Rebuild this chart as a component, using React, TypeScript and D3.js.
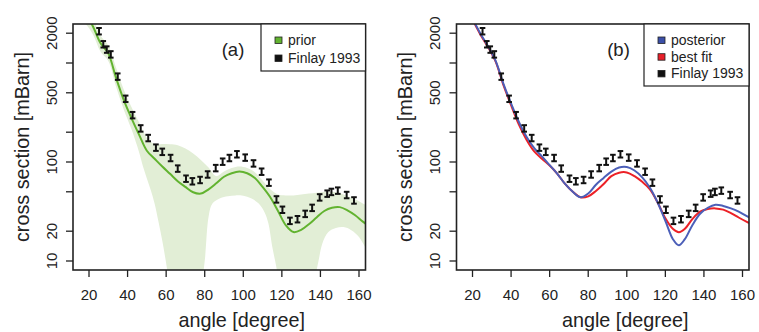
import React from 'react';
import * as d3 from 'd3';

// Finlay 1993 measurements (angle in degree, cross section in mBarn)
const finlayAngle = [25.2, 27.4, 29.2, 31.3, 34.9, 39.0, 42.6, 46.8, 50.7, 54.7, 58.0, 62.3, 66.0, 70.3, 73.6, 77.6, 81.5, 85.7, 89.3, 92.8, 96.7, 101.0, 105.3, 109.5, 113.3, 117.2, 120.3, 124.2, 128.1, 132.1, 135.7, 139.6, 143.5, 145.7, 149.0, 153.6, 157.4];
const finlayValue = [2100, 1550, 1370, 1225, 730, 436, 298, 219, 175, 140, 127, 110, 86, 68, 64, 66, 75, 87, 101, 110, 120, 111, 97, 80, 62, 42, 33, 25.5, 26.5, 30, 34.5, 44, 48, 50, 51.5, 46.5, 41];
const finlayRelErr = 0.075;

// prior mean curve
const priorAngle = [12, 18, 22, 26, 30, 34, 38, 42, 46, 50, 54, 58, 62, 66, 70, 74, 78, 82, 86, 90, 94, 98, 102, 106, 110, 114, 118, 122, 126, 130, 134, 138, 142, 146, 150, 154, 158, 162, 166];
const priorValue = [4500, 3200, 2350, 1580, 1250, 710, 425, 278, 188, 130, 108, 90, 76, 64, 56, 49.5, 48, 53, 61, 71, 77, 80, 77, 69, 56, 44, 32, 23, 19.6, 20.6, 23.5, 27.5, 32, 34.5, 35, 32.5, 29, 25, 22];

// prior uncertainty band
const bandUpperAngle = [12, 18, 22, 26, 30, 34, 38, 42, 46, 50, 54, 58, 62, 66, 70, 74, 78, 82, 86, 90, 94, 98, 102, 106, 110, 114, 118, 122, 126, 130, 134, 138, 142, 146, 150, 154, 158, 162, 166];
const bandUpper = [6000, 3700, 2800, 1900, 1500, 900, 540, 360, 250, 175, 152, 152, 151, 148, 137, 122, 105, 88, 72, 80, 87, 90, 87, 79, 65, 53, 47, 46, 46, 47, 48, 49, 50, 50, 48.5, 45, 42, 38, 35];
const bandLowerAngle = [12, 18, 22, 26, 30, 34, 38, 42, 46, 48, 50, 52, 54, 56, 58, 60, 62, 66, 70, 74, 78, 80, 82, 84, 88, 92, 96, 100, 104, 108, 111, 113, 115, 117, 119, 124, 130, 134, 137, 139, 141, 144, 148, 152, 156, 160, 164, 166];
const bandLower = [3000, 2500, 1950, 1300, 1050, 580, 340, 215, 125, 90, 68, 52, 38, 25, 16, 9.5, 5.5, 3, 2.5, 3, 5.5, 10, 28, 38, 43, 45, 46, 45.5, 43, 38, 31, 24, 14, 9, 5.5, 3, 2.5, 3.5, 6.5, 10, 15, 19.5, 21.5, 22, 20.5, 17.5, 13, 11.5];

// posterior and best fit curves
const fitAngle = [12, 16, 20, 24, 28, 32, 36, 40, 44, 48, 52, 56, 60, 64, 68, 72, 76, 80, 84, 88, 92, 96, 100, 104, 108, 112, 116, 120, 124, 127, 130, 134, 138, 142, 146, 150, 154, 158, 162, 166];
const posteriorValue = [5500, 4000, 2800, 2000, 1480, 1050, 620, 390, 255, 180, 138, 114, 93, 76, 60, 50, 44, 48, 59, 69, 80, 88, 89, 82, 70, 55, 39, 25.5, 16.5, 14.4, 16.5, 23, 30, 34.5, 37, 36, 34, 31.5, 28.5, 26];
const bestFitValue = [5400, 3900, 2750, 1950, 1450, 1030, 600, 375, 240, 168, 128, 108, 92, 76, 60, 50, 44, 45, 51, 60, 72, 78, 78.5, 72, 63, 53, 39, 27, 21, 19.5, 21, 26.5, 31.5, 33.5, 34, 33, 30.5, 27.5, 25, 23];

const xTicks = [20, 40, 60, 80, 100, 120, 140, 160];
const yTicks = [10, 20, 50, 100, 200, 500, 1000, 2000];
const yTickLabels = ['10', '20', '', '100', '', '500', '', '2000'];

const font = 'Liberation Sans, Arial, Helvetica, sans-serif';
const plotTop = 24, plotBottom = 270, plotW = 292.5;

type Pt = { a: number; v: number };
const zip = (as: number[], vs: number[]): Pt[] => as.map((a, i) => ({ a, v: vs[i] }));

const Panel = ({ x0, id, label, legend, children }: any) => {
  const x = d3.scaleLinear().domain([11.7, 163.37]).range([x0, x0 + plotW]);
  const y = d3.scaleLog().domain([8.11, 2477]).range([plotBottom, plotTop]);
  const line = d3.line<Pt>().x(d => x(d.a)).y(d => y(d.v)).curve(d3.curveCatmullRom.alpha(0.5));

  return (
    <g>
      <defs>
        <clipPath id={id}>
          <rect x={x0} y={plotTop} width={plotW} height={plotBottom - plotTop} />
        </clipPath>
      </defs>
      <g clipPath={`url(#${id})`}>{children(x, y, line)}</g>
      {/* data points with error bars */}
      <g stroke="#111" strokeWidth={2}>
        {finlayAngle.map((a, i) => {
          const v = finlayValue[i];
          const cx = x(a), y1 = y(v * (1 - finlayRelErr)), y2 = y(v * (1 + finlayRelErr));
          return (
            <g key={i}>
              <line x1={cx} x2={cx} y1={y1} y2={y2} />
              <line x1={cx - 2.8} x2={cx + 2.8} y1={y1} y2={y1} />
              <line x1={cx - 2.8} x2={cx + 2.8} y1={y2} y2={y2} />
            </g>
          );
        })}
      </g>
      <rect x={x0} y={plotTop} width={plotW} height={plotBottom - plotTop} fill="none" stroke="#222" strokeWidth={1.6} />
      {/* y axis */}
      {yTicks.map((t, i) => (
        <g key={t}>
          <line x1={x0 - 7} x2={x0} y1={y(t)} y2={y(t)} stroke="#222" strokeWidth={1.3} />
          {yTickLabels[i] && (
            <text transform={`translate(${x0 - 16.5},${y(t)}) rotate(-90)`} textAnchor="middle" fontSize={15} fill="#222" fontFamily={font}>{yTickLabels[i]}</text>
          )}
        </g>
      ))}
      {/* x axis */}
      {xTicks.map(t => (
        <g key={t}>
          <line x1={x(t)} x2={x(t)} y1={plotBottom} y2={plotBottom + 7} stroke="#222" strokeWidth={1.3} />
          <text x={x(t)} y={299.5} textAnchor="middle" fontSize={15} fill="#222" fontFamily={font}>{t}</text>
        </g>
      ))}
      <text x={x0 + 168.7} y={327} textAnchor="middle" fontSize={19.8} fill="#222" fontFamily={font}>angle [degree]</text>
      <text transform={`translate(${x0 - 44.5},147) rotate(-90)`} textAnchor="middle" fontSize={19.8} fill="#222" fontFamily={font}>cross section [mBarn]</text>
      <text x={x0 + (label === '(a)' ? 160 : 162)} y={55.5} textAnchor="middle" fontSize={18.5} fill="#222" fontFamily={font}>{label}</text>
      {legend}
    </g>
  );
};

const Legend = ({ x1, x2, rows, step, items }: any) => (
  <g fontFamily={font} fontSize={14} fill="#222">
    <rect x={x1} y={plotTop} width={x2 - x1} height={rows} fill="white" stroke="#222" strokeWidth={1.2} />
    {items.map((it: any, i: number) => (
      <g key={it.name}>
        <rect x={x1 + 14} y={plotTop + 13 + i * step} width={7} height={6.5} fill={it.color} stroke="#222" strokeWidth={0.8} />
        <text x={x1 + 27} y={plotTop + 21 + i * step}>{it.name}</text>
      </g>
    ))}
  </g>
);

export default function App() {
  const prior = zip(priorAngle, priorValue);
  const upper = zip(bandUpperAngle, bandUpper);
  const lower = zip(bandLowerAngle, bandLower).reverse();
  const posterior = zip(fitAngle, posteriorValue);
  const bestFit = zip(fitAngle, bestFitValue);

  return (
    <svg width={759} height={332} style={{ position: 'absolute', left: 0, top: 0, background: 'white' }}>
      <Panel
        x0={73}
        id="clipA"
        label="(a)"
        legend={<Legend x1={261} x2={365.5} rows={47} step={18} items={[{ name: 'prior', color: '#62b330' }, { name: 'Finlay 1993', color: '#111' }]} />}
      >
        {(x: any, y: any, line: any) => (
          <g>
            <path d={line(upper) + 'L' + line(lower).slice(1) + 'Z'} fill="#e2eed6" stroke="none" />
            <path d={line(prior)} fill="none" stroke="#62b330" strokeWidth={2} />
          </g>
        )}
      </Panel>
      <Panel
        x0={456.5}
        id="clipB"
        label="(b)"
        legend={<Legend x1={644} x2={749} rows={62} step={16.7} items={[{ name: 'posterior', color: '#3b4fa8' }, { name: 'best fit', color: '#e8202a' }, { name: 'Finlay 1993', color: '#111' }]} />}
      >
        {(x: any, y: any, line: any) => (
          <g>
            <path d={line(bestFit)} fill="none" stroke="#ec2127" strokeWidth={2} />
            <path d={line(posterior)} fill="none" stroke="#4c5fb8" strokeWidth={2} />
          </g>
        )}
      </Panel>
    </svg>
  );
}
